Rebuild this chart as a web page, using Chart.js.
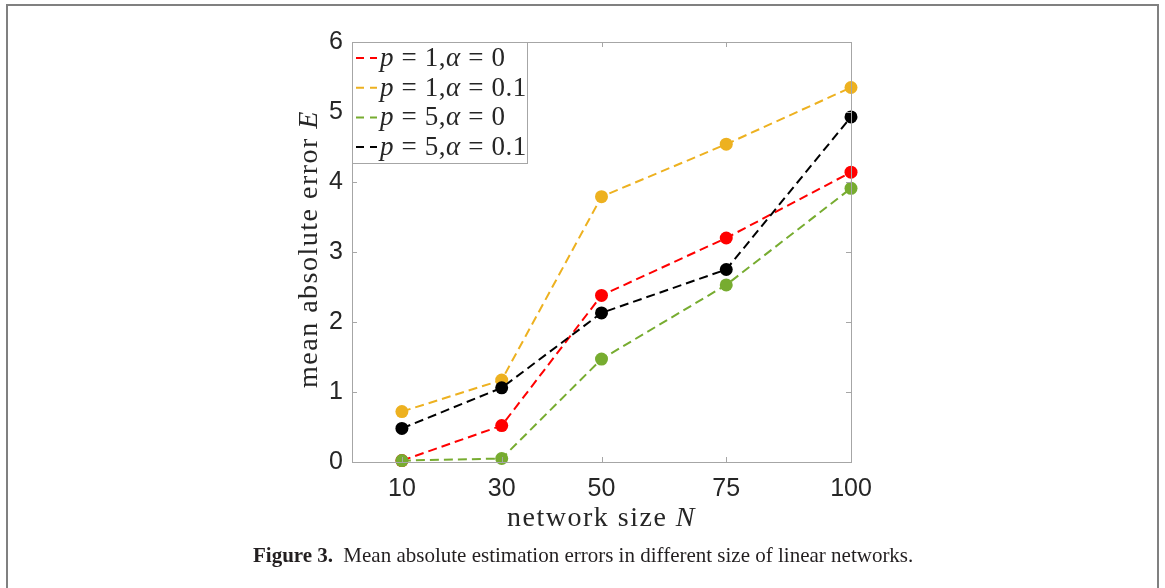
<!DOCTYPE html>
<html lang="en">
<head>
<meta charset="UTF-8">
<title>Figure 3 - Mean absolute estimation errors</title>
<script src="https://cdn.jsdelivr.net/npm/chart.js"></script>
<style>
    body { margin: 0; background: #fff; }
    #wrap { position: relative; width: 1165px; height: 588px; overflow: hidden; }
    #frame { position: absolute; left: 6px; top: 4px; width: 1149px; height: 620px;
             border: 2px solid #808080; border-bottom: none; }
    #chart { position: absolute; left: 0; top: 0; }
    #caption { position: absolute; left: 253px; top: 543px; font-family: "Liberation Serif", serif;
               font-size: 21px; color: #231f20; white-space: nowrap; }
    #caption b { margin-right: 5px; }
</style>
</head>
<body>
<div id="wrap">
    <div id="frame"></div>
    <canvas id="chart" width="1165" height="588"></canvas>
    <div id="caption"><b>Figure 3.</b> Mean absolute estimation errors in different size of linear networks.</div>
</div>

<script>
    // network sizes N
    const sizes = [10, 30, 50, 75, 100];
    const xTicks = [10, 30, 50, 75, 100];
    const yTicks = [0, 1, 2, 3, 4, 5, 6];

    // mean absolute error E for each setting
    const errP1A0  = [0.02, 0.52, 2.38, 3.20, 4.14];
    const errP1A01 = [0.72, 1.17, 3.79, 4.54, 5.35];
    const errP5A0  = [0.02, 0.05, 1.47, 2.53, 3.91];
    const errP5A01 = [0.48, 1.06, 2.13, 2.75, 4.93];

    // legend labels as [text, italic] runs
    const legendRuns = [
        [['p', true], [' = 1,', false], ['α', true], [' = 0', false]],
        [['p', true], [' = 1,', false], ['α', true], [' = 0.1', false]],
        [['p', true], [' = 5,', false], ['α', true], [' = 0', false]],
        [['p', true], [' = 5,', false], ['α', true], [' = 0.1', false]]
    ];
    const colors = ['#ff0000', '#edb120', '#77ac30', '#000000'];

    const SERIF = '"Liberation Serif", serif';
    const SANS = '"Liberation Sans", Arial, sans-serif';

    function makeSet(vals, i) {
        return {
            data: sizes.map((n, k) => ({ x: n, y: vals[k] })),
            borderColor: colors[i],
            backgroundColor: colors[i],
            borderWidth: 2,
            borderDash: [9, 5],
            pointRadius: 6.5,
            pointHoverRadius: 6.5,
            pointBorderWidth: 0,
            tension: 0,
            clip: false,
            order: 4 - i
        };
    }

    function drawRuns(ctx, runs, x, y, size) {
        runs.forEach(([txt, it]) => {
            ctx.font = (it ? 'italic ' : '') + size + 'px ' + SERIF;
            ctx.fillText(txt, x, y);
            x += ctx.measureText(txt).width;
        });
    }

    // box, inward ticks, axis titles and legend (MATLAB look)
    const figurePlugin = {
        id: 'figure',
        afterDraw(chart) {
            const ctx = chart.ctx;
            const a = chart.chartArea;
            const xs = chart.scales.x, ys = chart.scales.y;
            ctx.save();

            ctx.strokeStyle = '#a6a6a6';
            ctx.lineWidth = 1;
            ctx.strokeRect(a.left + 0.5, a.top + 0.5, a.right - a.left, a.bottom - a.top);
            ctx.beginPath();
            yTicks.forEach(v => {
                const py = Math.round(ys.getPixelForValue(v)) + 0.5;
                ctx.moveTo(a.left, py); ctx.lineTo(a.left + 5, py);
                ctx.moveTo(a.right, py); ctx.lineTo(a.right - 5, py);
            });
            xTicks.forEach(v => {
                const px = Math.round(xs.getPixelForValue(v)) + 0.5;
                ctx.moveTo(px, a.bottom); ctx.lineTo(px, a.bottom - 5);
                ctx.moveTo(px, a.top); ctx.lineTo(px, a.top + 5);
            });
            ctx.stroke();

            // axis titles
            ctx.fillStyle = '#262626';
            ctx.textBaseline = 'alphabetic';
            ctx.letterSpacing = '1.5px';
            const xRuns = [['network size ', false], ['N', true]];
            let w = 0;
            xRuns.forEach(([t, it]) => { ctx.font = (it ? 'italic ' : '') + '28px ' + SERIF; w += ctx.measureText(t).width; });
            drawRuns(ctx, xRuns, (a.left + a.right) / 2 - w / 2, 526, 28);

            const yRuns = [['mean absolute error ', false], ['E', true]];
            w = 0;
            yRuns.forEach(([t, it]) => { ctx.font = (it ? 'italic ' : '') + '28px ' + SERIF; w += ctx.measureText(t).width; });
            ctx.save();
            ctx.translate(317, (a.top + a.bottom) / 2 - 3);
            ctx.rotate(-Math.PI / 2);
            drawRuns(ctx, yRuns, -w / 2, 0, 28);
            ctx.restore();
            ctx.letterSpacing = '0px';

            // legend
            const lx = a.left, ly = a.top, lw = 175, lh = 121;
            ctx.fillStyle = '#fff';
            ctx.fillRect(lx, ly, lw, lh);
            ctx.strokeStyle = '#a6a6a6';
            ctx.strokeRect(lx + 0.5, ly + 0.5, lw, lh);
            legendRuns.forEach((runs, i) => {
                const cy = ly + 16 + i * 29.7;
                ctx.strokeStyle = colors[i];
                ctx.lineWidth = 2;
                ctx.setLineDash([8, 6]);
                ctx.beginPath();
                ctx.moveTo(lx + 4, cy); ctx.lineTo(lx + 25, cy);
                ctx.stroke();
                ctx.setLineDash([]);
                ctx.fillStyle = '#262626';
                ctx.letterSpacing = '0.6px';
                drawRuns(ctx, runs, lx + 28, cy + 8, 27);
                ctx.letterSpacing = '0px';
            });
            ctx.restore();
        }
    };

    new Chart(document.getElementById('chart'), {
        type: 'line',
        data: { datasets: [makeSet(errP1A0, 0), makeSet(errP1A01, 1), makeSet(errP5A0, 2), makeSet(errP5A01, 3)] },
        options: {
            responsive: false,
            animation: false,
            devicePixelRatio: 1,
            layout: { padding: { left: 0, top: 42, right: 314, bottom: 0 } },
            plugins: { legend: { display: false }, tooltip: { enabled: false } },
            scales: {
                x: {
                    type: 'linear', min: 0, max: 100,
                    afterBuildTicks: s => { s.ticks = xTicks.map(v => ({ value: v })); },
                    afterFit: s => { s.height = 126; },
                    grid: { display: false, drawTicks: false }, border: { display: false },
                    ticks: { padding: 12, color: '#262626', font: { family: SANS, size: 25 }, maxRotation: 0 }
                },
                y: {
                    min: 0, max: 6,
                    afterBuildTicks: s => { s.ticks = yTicks.map(v => ({ value: v })); },
                    afterFit: s => { s.width = 352; },
                    grid: { display: false, drawTicks: false }, border: { display: false },
                    ticks: { padding: 9, color: '#262626', font: { family: SANS, size: 25 } }
                }
            }
        },
        plugins: [figurePlugin]
    });
</script>
</body>
</html>
